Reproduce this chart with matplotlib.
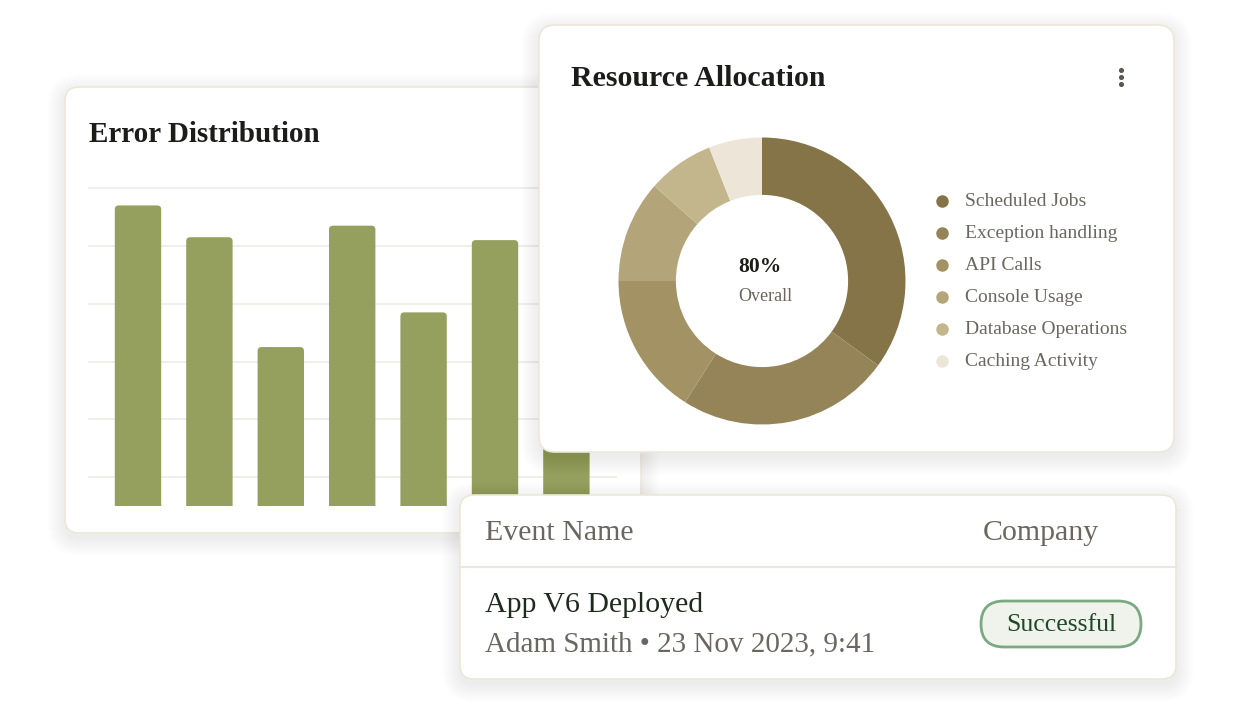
import numpy as np
import matplotlib.pyplot as plt
from matplotlib.patches import FancyBboxPatch

W, H = 1240, 716

# Error Distribution
bar_values = [52, 46.5, 27.5, 48.5, 33.5, 46, 42]
grid_values = [5, 15, 25, 35, 45, 55]
bar_color = '#96a05e'

# Resource Allocation
alloc_labels = ['Scheduled Jobs', 'Exception handling', 'API Calls',
                'Console Usage', 'Database Operations', 'Caching Activity']
alloc_values = [35, 24, 16, 11.5, 7.5, 6]
alloc_colors = ['#857447', '#948458', '#a39264', '#b3a579', '#c3b68d', '#ede6d8']
overall_value = '80%'
overall_label = 'Overall'

# Events table
table_cols = ['Event Name', 'Company']
event_name = 'App V6 Deployed'
event_meta = 'Adam Smith \u2022 23 Nov 2023, 9:41'
event_status = 'Successful'

plt.rcParams['font.family'] = ['Liberation Serif', 'DejaVu Serif']

GREY = '#6b6660'
DARK = '#1c1c1a'

fig = plt.figure(figsize=(W / 100, H / 100), dpi=100)
fig.patch.set_facecolor('white')


def layer(z):
    # full figure axes in pixel units, y going down
    ax = fig.add_axes([0, 0, 1, 1], zorder=z)
    ax.set_xlim(0, W)
    ax.set_ylim(H, 0)
    ax.axis('off')
    ax.patch.set_alpha(0)
    return ax


def px_axes(x0, y0, x1, y1, z):
    return fig.add_axes([x0 / W, 1 - y1 / H, (x1 - x0) / W, (y1 - y0) / H], zorder=z)


def card(ax, x0, y0, x1, y1, r=14, edge='#eee7d8'):
    # soft shadow
    for s in range(18, 0, -1):
        ax.add_patch(FancyBboxPatch((x0 - s, y0 - s + 5), x1 - x0 + 2 * s, y1 - y0 + 2 * s,
                                    boxstyle=f'round,pad=0,rounding_size={r + s}',
                                    fc='#3a3528', ec='none', alpha=0.0045))
    ax.add_patch(FancyBboxPatch((x0, y0), x1 - x0, y1 - y0,
                                boxstyle=f'round,pad=0,rounding_size={r}',
                                fc='white', ec=edge, lw=1.2))


# ---- card 1: Error Distribution ----
l1 = layer(0)
card(l1, 65, 87, 641, 533)
l1.text(89, 135, 'Error Distribution', fontsize=21, fontweight='bold',
        color=DARK, va='center', ha='left')

ax_bar = px_axes(88, 184, 617, 506, 1)
x = np.arange(len(bar_values))
bars = ax_bar.bar(x, bar_values, width=0.65, color=bar_color, zorder=3)
# round the top corners a little: redraw each bar as a rounded box clipped at the baseline
sx, sy = 1 / 71.4, 1 / 5.78
for b in bars:
    b.set_visible(False)
    ax_bar.add_patch(FancyBboxPatch((b.get_x(), -2), b.get_width(), b.get_height() + 2,
                                    boxstyle=f'round,pad=0,rounding_size={4 * sx}',
                                    mutation_aspect=sy / sx, fc=bar_color, ec='none',
                                    zorder=3, clip_on=True))
ax_bar.set_xlim((88 - 138) / 71.4, (617 - 138) / 71.4)
ax_bar.set_ylim(0, (506 - 184) / 5.78)
ax_bar.set_yticks(grid_values)
ax_bar.set_xticks([])
ax_bar.grid(axis='y', color='#eeebe4', lw=1.2)
ax_bar.tick_params(left=False, labelleft=False)
for sp in ax_bar.spines.values():
    sp.set_visible(False)
ax_bar.patch.set_alpha(0)

# ---- card 2: Resource Allocation ----
l2 = layer(2)
card(l2, 539, 25, 1174, 452, r=16)
l2.text(571, 79, 'Resource Allocation', fontsize=21.5, fontweight='bold',
        color=DARK, va='center', ha='left')
l2.scatter([1121] * 3, [70, 77, 84], s=7, color='#5a5750', zorder=5)

for i, (lab, col) in enumerate(zip(alloc_labels, alloc_colors)):
    yy = 201 + 32 * i
    l2.scatter([942], [yy], s=64, color=col, zorder=5)
    l2.text(965, yy + 1, lab, fontsize=14, color=GREY, va='center', ha='left')

cx, cy, rad = 762, 281, 143.5
ax_pie = px_axes(cx - rad, cy - rad, cx + rad, cy + rad, 3)
ax_pie.pie(alloc_values, colors=alloc_colors, startangle=90, counterclock=False,
           radius=1, wedgeprops=dict(width=0.4, edgecolor='none'))
ax_pie.set_xlim(-1, 1)
ax_pie.set_ylim(-1, 1)
ax_pie.text(-0.165, 0.095, overall_value, fontsize=15.5, fontweight='bold',
            color=DARK, ha='left', va='center')
ax_pie.text(-0.165, -0.11, overall_label, fontsize=13, color=GREY,
            ha='left', va='center')

# ---- card 3: events table ----
l3 = layer(4)
card(l3, 460, 495, 1176, 679, r=14)
l3.plot([460, 1176], [567, 567], color='#ebe7df', lw=1.5)
l3.text(485, 533, table_cols[0], fontsize=21.5, color=GREY, va='center', ha='left')
l3.text(1099, 533, table_cols[1], fontsize=21.5, color=GREY, va='center', ha='right')
l3.text(485, 605, event_name, fontsize=21.5, color='#1e2a1e', va='center', ha='left')
l3.text(485, 644, event_meta, fontsize=21, color=GREY, va='center', ha='left')
l3.add_patch(FancyBboxPatch((981, 601), 160, 46,
                            boxstyle='round,pad=0,rounding_size=23',
                            fc='#f0f2ec', ec='#7aa982', lw=2))
l3.text(1061, 625, event_status, fontsize=18.5, color='#1f4a2a', va='center', ha='center')

fig.savefig('out.png', dpi=100, facecolor='white')
